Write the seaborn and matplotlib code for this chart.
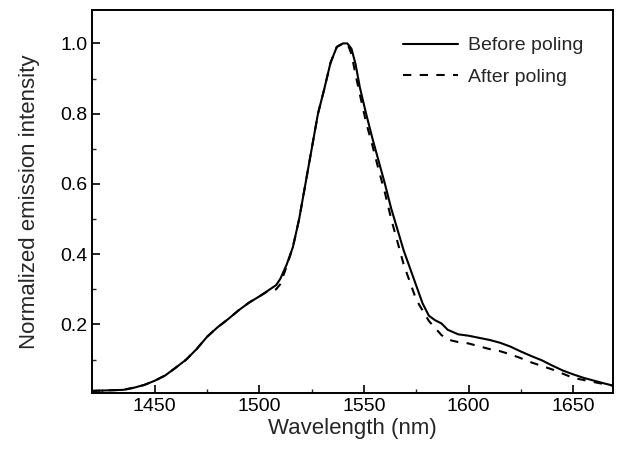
import numpy as np
import pandas as pd
import matplotlib
matplotlib.use('Agg')
import matplotlib.pyplot as plt
from matplotlib.ticker import MultipleLocator
import seaborn as sns

# emission spectra
wavelength = [1420, 1425, 1430, 1435, 1440, 1445, 1450, 1455, 1460, 1465,
              1470, 1475, 1480, 1485, 1490, 1495, 1500, 1505, 1508, 1510,
              1513, 1516, 1519, 1522, 1525, 1528, 1531, 1534, 1537, 1540,
              1542, 1544, 1546, 1548, 1551, 1554, 1557, 1560, 1563, 1566,
              1569, 1572, 1575, 1578, 1581, 1584, 1587, 1590, 1595, 1600,
              1605, 1610, 1615, 1620, 1625, 1630, 1635, 1640, 1645, 1650,
              1655, 1660, 1665, 1669]
before = [0.011, 0.012, 0.013, 0.014, 0.020, 0.028, 0.040, 0.055, 0.077, 0.100,
          0.130, 0.165, 0.192, 0.215, 0.240, 0.262, 0.280, 0.300, 0.312, 0.330,
          0.370, 0.420, 0.500, 0.600, 0.700, 0.800, 0.870, 0.945, 0.990, 1.000,
          1.000, 0.985, 0.940, 0.875, 0.800, 0.730, 0.665, 0.600, 0.530, 0.470,
          0.410, 0.360, 0.310, 0.260, 0.225, 0.212, 0.203, 0.185, 0.172, 0.168,
          0.162, 0.156, 0.148, 0.137, 0.123, 0.110, 0.098, 0.083, 0.069, 0.058,
          0.048, 0.040, 0.032, 0.026]
after = [0.011, 0.012, 0.013, 0.014, 0.020, 0.028, 0.040, 0.055, 0.077, 0.100,
         0.130, 0.165, 0.192, 0.215, 0.240, 0.262, 0.280, 0.298, 0.300, 0.315,
         0.365, 0.420, 0.500, 0.600, 0.700, 0.800, 0.870, 0.945, 0.990, 1.000,
         1.000, 0.970, 0.910, 0.855, 0.775, 0.710, 0.640, 0.575, 0.500, 0.435,
         0.370, 0.320, 0.270, 0.240, 0.210, 0.190, 0.170, 0.157, 0.150, 0.146,
         0.138, 0.130, 0.124, 0.115, 0.104, 0.092, 0.082, 0.072, 0.060, 0.048,
         0.042, 0.036, 0.030, 0.026]
series = ['Before poling', 'After poling']

df = pd.DataFrame({
    'wavelength': wavelength * 2,
    'intensity': before + after,
    'sample': [series[0]] * len(before) + [series[1]] * len(after),
})

sns.set_style("ticks")
plt.rcParams['font.family'] = ['Liberation Sans', 'DejaVu Sans']
plt.rcParams['xtick.direction'] = 'in'
plt.rcParams['ytick.direction'] = 'in'

fig = plt.figure(figsize=(6.19, 4.55), dpi=100)
ax = fig.add_axes([92 / 619, 1 - 393 / 455, 521 / 619, 383 / 455])

sns.lineplot(data=df, x='wavelength', y='intensity', hue='sample', style='sample',
             palette=['black', 'black'], dashes=[(None, None), (4, 4)],
             linewidth=1.5, ax=ax)

ax.set_xlim(1420, 1669)
ax.set_ylim(0.005, 1.095)
ax.set_xticks([1450, 1500, 1550, 1600, 1650])
ax.set_yticks([0.2, 0.4, 0.6, 0.8, 1.0])
ax.set_yticklabels(['0.2', '0.4', '0.6', '0.8', '1.0'])
ax.xaxis.set_minor_locator(MultipleLocator(25))
ax.yaxis.set_minor_locator(MultipleLocator(0.1))
ax.tick_params(which='major', length=6, width=1.2, labelsize=14, colors='black')
ax.tick_params(which='minor', length=3, width=1.0)
for s in ax.spines.values():
    s.set_linewidth(1.4)
    s.set_color('black')

ax.set_xlabel('Wavelength (nm)', fontsize=16, labelpad=2)
ax.set_ylabel('Normalized emission intensity', fontsize=16, labelpad=14)

ax.legend(title=None, frameon=False, fontsize=14, loc='upper left',
          bbox_to_anchor=((403 - 92) / 521, 0.93), borderaxespad=0, borderpad=0,
          handlelength=2.85, handletextpad=0.5, labelspacing=0.7)

plt.savefig('out.png', dpi=100)
